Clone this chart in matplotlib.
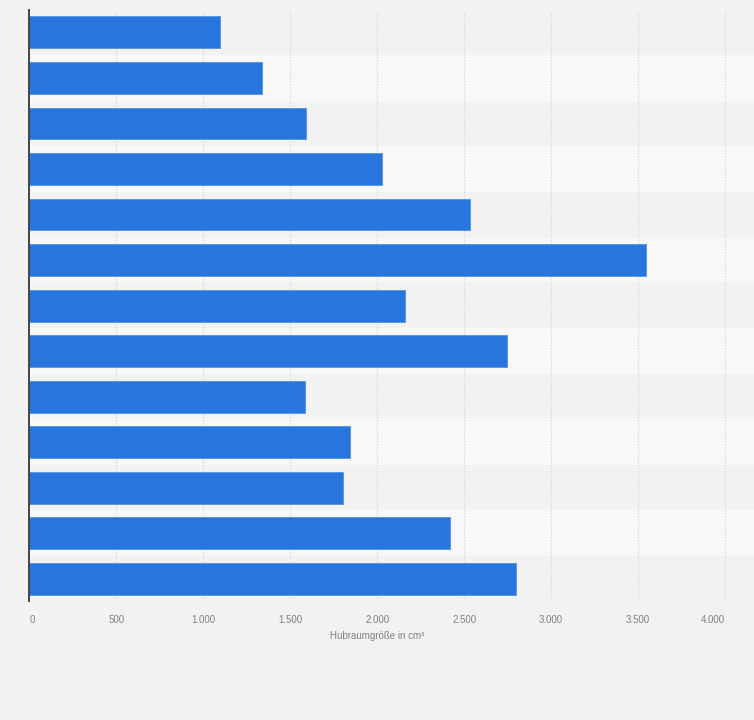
"""Hubraumgröße je Fahrzeug: horizontales Balkendiagramm."""

import matplotlib

matplotlib.use("Agg")
import matplotlib.pyplot as plt
import numpy as np

# values, top to bottom
hubraum = [1098, 1339, 1592, 2029, 2535, 3544, 2162, 2744, 1587, 1842, 1805, 2420, 2796]
x_ticks = [0, 500, 1000, 1500, 2000, 2500, 3000, 3500, 4000]
x_tick_labels = ["0", "500", "1.000", "1.500", "2.000", "2.500", "3.000", "3.500", "4.000"]
x_label = "Hubraumgröße in cm³"

BG = "#f2f2f2"
BAND_DARK = "#f2f2f2"
BAND_LIGHT = "#f8f8f8"
BAR = "#2876dd"

plt.rcParams["font.family"] = ["Liberation Sans", "DejaVu Sans"]

fig = plt.figure(figsize=(7.54, 7.2), dpi=100, facecolor=BG)
ax = fig.add_axes([0.0391, 0.1646, 0.9609, 0.8220])
ax.set_facecolor(BG)

n = len(hubraum)
y = np.arange(n)

# alternating row bands
for i in range(n):
    ax.axhspan(i - 0.5, i + 0.5, color=BAND_DARK if i % 2 == 0 else BAND_LIGHT,
               lw=0, zorder=0)

for xt in x_ticks[1:]:
    ax.axvline(xt, color="#d9d9d9", lw=0.9, ls=(0, (1.2, 1.2)), zorder=1)

ax.barh(y, hubraum, height=0.7, color=BAR, edgecolor="#5b97e6", lw=0.7, zorder=2)

ax.set_ylim(n - 0.5, -0.5)
ax.set_xlim(0, 4166)
ax.set_yticks([])
ax.set_xticks(x_ticks)
ax.set_xticklabels(x_tick_labels, fontsize=7, color="#808080")
ax.tick_params(axis="x", length=0, pad=10)
labels = ax.get_xticklabels()
labels[0].set_ha("left")
labels[-1].set_ha("right")

ax.set_xlabel(x_label, fontsize=7, color="#808080")
ax.xaxis.set_label_coords(2000 / 4166, -0.050)

for side in ("top", "right", "bottom"):
    ax.spines[side].set_visible(False)
ax.spines["left"].set_color("#444444")
ax.spines["left"].set_linewidth(1.4)

fig.savefig("out.png", dpi=100, facecolor=BG)
